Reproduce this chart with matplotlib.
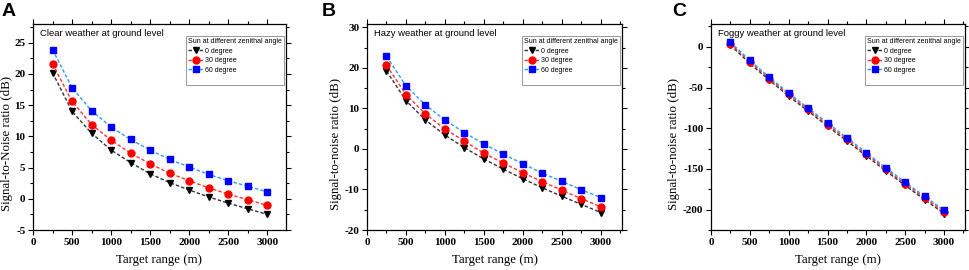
import matplotlib
matplotlib.use("Agg")
import matplotlib.pyplot as plt
from matplotlib.ticker import MultipleLocator
from matplotlib.lines import Line2D

plt.rcParams["axes.unicode_minus"] = False

# ---- data ----
ranges = [250, 500, 750, 1000, 1250, 1500, 1750, 2000, 2250, 2500, 2750, 3000]
series_labels = ["0 degree", "30 degree", "60 degree"]

clear_0 = [20.2, 14.0, 10.5, 7.8, 5.8, 4.0, 2.6, 1.4, 0.3, -0.7, -1.6, -2.5]
clear_30 = [21.6, 15.6, 11.9, 9.4, 7.3, 5.6, 4.1, 2.9, 1.75, 0.75, -0.15, -1.06]
clear_60 = [23.9, 17.8, 14.1, 11.5, 9.5, 7.8, 6.3, 5.1, 3.9, 2.9, 2.0, 1.1]

hazy_0 = [19.2, 11.9, 7.1, 3.4, 0.3, -2.5, -5.0, -7.4, -9.6, -11.7, -13.7, -15.7]
hazy_30 = [20.6, 13.4, 8.6, 4.9, 1.9, -1.1, -3.5, -5.9, -8.1, -10.2, -12.3, -14.3]
hazy_60 = [22.8, 15.6, 10.8, 7.1, 4.0, 1.2, -1.3, -3.7, -6.0, -8.0, -10.1, -12.0]

foggy_0 = [2.0, -20.5, -41.0, -60.5, -79.0, -97.5, -115.8, -134.0, -152.4, -170.3, -187.7, -204.8]
foggy_30 = [4.0, -18.5, -39.0, -58.5, -77.0, -95.5, -113.8, -132.0, -150.4, -168.3, -185.7, -202.8]
foggy_60 = [5.7, -16.7, -37.4, -56.9, -75.2, -93.5, -111.8, -130.0, -148.4, -166.3, -183.7, -200.8]

panels = [
    dict(letter="A", title="Clear weather at ground level", ylabel="Signal-to-Noise ratio (dB)",
         data=[clear_0, clear_30, clear_60], ylim=(-5, 28), ymaj=5, ymin=2.5, xlim=(0, 3240)),
    dict(letter="B", title="Hazy weather at ground level", ylabel="Signal-to-noise ratio (dB)",
         data=[hazy_0, hazy_30, hazy_60], ylim=(-20, 30.8), ymaj=10, ymin=5, xlim=(0, 3270)),
    dict(letter="C", title="Foggy weather at ground level", ylabel="Signal-to-noise ratio (dB)",
         data=[foggy_0, foggy_30, foggy_60], ylim=(-225, 28), ymaj=50, ymin=25, xlim=(0, 3270)),
]

marker_colors = ["black", "#ff0000", "#0000ff"]
line_colors = ["#333333", "#ff3333", "#3399ff"]
markers = ["v", "o", "s"]

W, H = 969, 270
fig = plt.figure(figsize=(W / 100, H / 100), dpi=100)

lefts = [33, 367, 711]
rights = [286, 622, 965]
top_px, bot_px = 24, 230
letter_x = [2, 322, 672]
ylabel_x = [-0.08, -0.098, -0.122]

serif = "Liberation Serif"
sans = "Liberation Sans"

for p, lx, rx, ltx, ylx in zip(panels, lefts, rights, letter_x, ylabel_x):
    ax = fig.add_axes([lx / W, (H - bot_px) / H, (rx - lx) / W, (bot_px - top_px) / H])
    for d, mc, lc, m, lab in zip(p["data"], marker_colors, line_colors, markers, series_labels):
        ax.plot(ranges, d, linestyle=(0, (2.5, 1.5)), color=lc, lw=1.0,
                marker=m, markersize=5, markerfacecolor=mc, markeredgecolor=mc, label=lab)
    ax.set_xlim(*p["xlim"])
    ax.set_ylim(*p["ylim"])
    ax.xaxis.set_major_locator(MultipleLocator(500))
    ax.xaxis.set_minor_locator(MultipleLocator(250))
    ax.yaxis.set_major_locator(MultipleLocator(p["ymaj"]))
    ax.yaxis.set_minor_locator(MultipleLocator(p["ymin"]))
    ax.tick_params(which="both", direction="out", top=True, right=True,
                   labeltop=False, labelright=False, width=0.8)
    ax.tick_params(which="major", length=3.5, pad=2)
    ax.tick_params(which="minor", length=2)
    for lbl in ax.get_xticklabels() + ax.get_yticklabels():
        lbl.set_fontfamily(serif)
        lbl.set_fontweight("bold")
        lbl.set_fontsize(8)
    for s in ax.spines.values():
        s.set_linewidth(0.9)
    ax.set_xlabel("Target range (m)", fontfamily=serif, fontsize=9.3, labelpad=5)
    ax.set_ylabel(p["ylabel"], fontfamily=serif, fontsize=9.3, labelpad=2)
    ax.yaxis.set_label_coords(ylx, 0.42)
    ax.text(0.028, 0.955, p["title"], transform=ax.transAxes, fontfamily=sans,
            fontsize=6.8, va="center", ha="left")
    handles, labels = ax.get_legend_handles_labels()
    handles = handles + [Line2D([], [], color="none")]
    labels = labels + [" "]
    leg = ax.legend(handles, labels, title="Sun at different zenithal angle",
                    loc="upper right", bbox_to_anchor=(1.0, 0.95),
                    prop={"family": sans, "size": 5}, title_fontproperties={"family": sans, "size": 5},
                    frameon=True, fancybox=False, edgecolor="#888888", framealpha=1,
                    handlelength=2.2, handletextpad=0.2, labelspacing=0.35,
                    borderpad=0.3, borderaxespad=0.3, alignment="left", numpoints=1)
    leg.get_frame().set_linewidth(0.6)
    fig.text(ltx / W, (H - 11) / H, p["letter"], fontfamily=sans, fontweight="bold",
             fontsize=14, va="center", ha="left")

fig.savefig("out.png", dpi=100)
